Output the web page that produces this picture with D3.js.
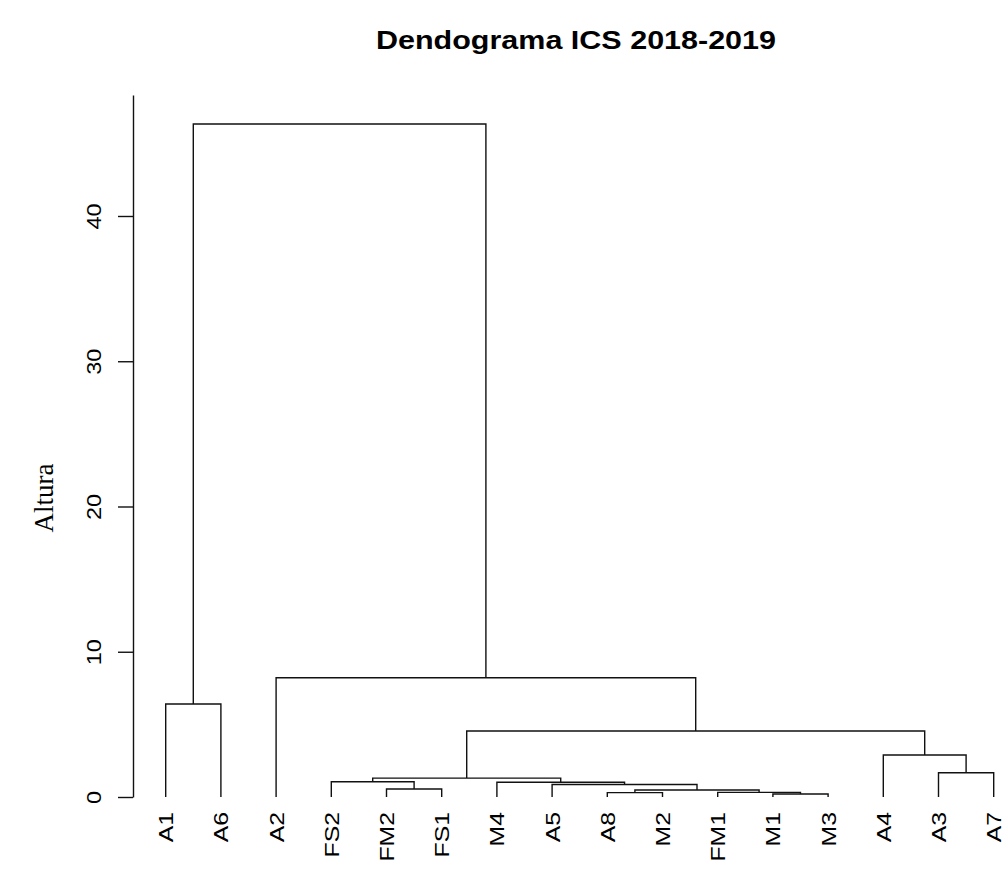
<!DOCTYPE html>
<html>
<head>
<meta charset="utf-8">
<script src="https://cdn.jsdelivr.net/npm/d3@7"></script>
<style>
  html, body { margin: 0; padding: 0; background: #fff; }
  svg { display: block; }
</style>
</head>
<body>
<svg id="chart" width="1003" height="869"></svg>
<script>
// Leaves in plotting order
const leaves = ["A1","A6","A2","FS2","FM2","FS1","M4","A5","A8","M2","FM1","M1","M3","A4","A3","A7"];

// Agglomeration steps: a string names a leaf, a number refers to an earlier step (1-based)
const mergeLeft  = ["M1","FM1","A8", 3,  "FM2","A5","FS2","M4", 7,   "A3","A4", 9,   "A1","A2", 13];
const mergeRight = ["M3", 1,   "M2", 2,  "FS1", 4,   5,    6,   8,   "A7", 10,  11,  "A6", 12,  14];
const mergeHeight = [0.21, 0.32, 0.30, 0.48, 0.55, 0.86, 1.05, 1.02, 1.30, 1.67, 2.89, 4.54, 6.40, 8.21, 46.33];

const yTicks = [0, 10, 20, 30, 40];
const title = "Dendograma ICS 2018-2019";
const yTitle = "Altura";

const svg = d3.select("#chart");

const x = d3.scalePoint().domain(leaves).range([165.7, 993.7]);
const y = d3.scaleLinear().domain([0, 48.33]).range([797, 95]);

// Resolve each node to its x centre and height
const nodePos = [];
function pos(ref) {
  if (typeof ref === "string") return { cx: x(ref), h: 0 };
  return nodePos[ref - 1];
}
const segs = [];
mergeHeight.forEach((h, i) => {
  const L = pos(mergeLeft[i]);
  const R = pos(mergeRight[i]);
  segs.push([[L.cx, y(L.h)], [L.cx, y(h)], [R.cx, y(h)], [R.cx, y(R.h)]]);
  nodePos.push({ cx: (L.cx + R.cx) / 2, h });
});

const line = d3.line();
svg.append("g")
  .selectAll("path")
  .data(segs)
  .join("path")
  .attr("d", d => line(d))
  .attr("fill", "none")
  .attr("stroke", "#111")
  .attr("stroke-width", 1.4);

// Leaf labels, rotated and slightly widened along the text direction
svg.append("g")
  .selectAll("text")
  .data(leaves)
  .join("text")
  .attr("transform", d => `translate(${x(d) + 7.5},812) rotate(-90) scale(1.18,1)`)
  .attr("text-anchor", "end")
  .attr("font-family", "Liberation Sans, Arial, sans-serif")
  .attr("font-size", 21)
  .attr("fill", "#000")
  .text(d => d);

// Y axis
const axis = svg.append("g")
  .attr("transform", "translate(133,0)")
  .call(d3.axisLeft(y).tickValues(yTicks).tickSize(15).tickSizeOuter(0));
axis.select(".domain").attr("stroke", "#111").attr("stroke-width", 1.4);
axis.selectAll(".tick line").attr("stroke", "#111").attr("stroke-width", 1.4);
axis.selectAll(".tick text")
  .attr("x", null).attr("dy", null)
  .attr("transform", "translate(-32,0) rotate(-90) scale(1.12,1)")
  .attr("text-anchor", "middle")
  .attr("font-family", "Liberation Sans, Arial, sans-serif")
  .attr("font-size", 21)
  .attr("fill", "#000");

// Axis title
svg.append("text")
  .attr("transform", "translate(53,498) rotate(-90)")
  .attr("text-anchor", "middle")
  .attr("font-family", "Liberation Serif, Times New Roman, serif")
  .attr("font-size", 27)
  .attr("fill", "#000")
  .text(yTitle);

// Chart title
svg.append("text")
  .attr("x", 576)
  .attr("y", 49)
  .attr("text-anchor", "middle")
  .attr("textLength", 400)
  .attr("lengthAdjust", "spacingAndGlyphs")
  .attr("font-family", "Liberation Sans, Arial, sans-serif")
  .attr("font-weight", "bold")
  .attr("font-size", 26)
  .attr("fill", "#000")
  .text(title);
</script>
</body>
</html>
